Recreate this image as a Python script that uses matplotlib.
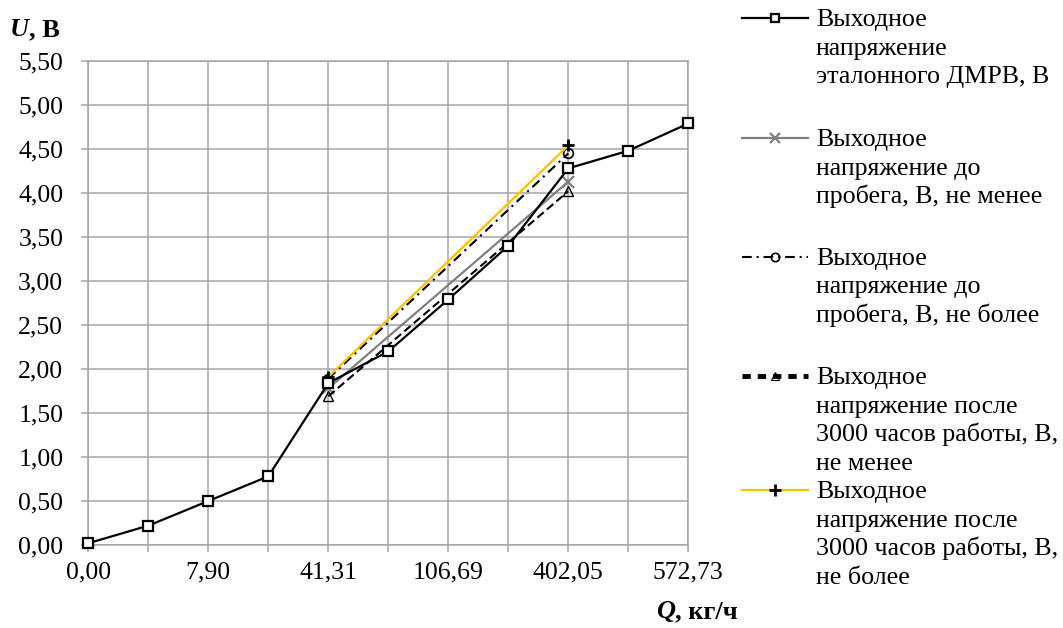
import matplotlib
matplotlib.use('Agg')
import matplotlib.pyplot as plt
from matplotlib.lines import Line2D

plt.rcParams['font.family'] = ['Liberation Serif', 'DejaVu Serif']
plt.rcParams['lines.scale_dashes'] = False

# categories on the x axis (every second one is labelled)
x_labels = ['0,00', '', '7,90', '', '41,31', '', '106,69', '', '402,05', '', '572,73']
x_pos = list(range(len(x_labels)))

u_ref = [0.02, 0.22, 0.50, 0.78, 1.84, 2.20, 2.79, 3.40, 4.28, 4.48, 4.79]
bound_pos = [4, 8]
u_before_min = [1.78, 4.13]
u_before_max = [1.89, 4.45]
u_after_min = [1.69, 4.02]
u_after_max = [1.91, 4.54]

y_ticks = [0.5 * i for i in range(12)]

W, H = 1063, 628
fig = plt.figure(figsize=(W / 100, H / 100), dpi=100)
ax = fig.add_axes([88.3 / W, 1 - 545 / H, 600 / W, (545 - 61) / H])

grid_c = '#a6a6a6'
ax.set_xlim(0, 10)
ax.set_ylim(0, 5.5)
ax.set_xticks(x_pos)
ax.set_xticklabels(x_labels)
ax.set_yticks(y_ticks)
ax.set_yticklabels([('%.2f' % v).replace('.', ',') for v in y_ticks])
ax.grid(True, color=grid_c, lw=1.1)
ax.set_axisbelow(True)
for s in ax.spines.values():
    s.set_color(grid_c)
    s.set_linewidth(1.1)
ax.tick_params(axis='both', color=grid_c, width=1.1, length=5, labelsize=18.5)
ax.tick_params(axis='y', pad=13)
ax.tick_params(axis='x', pad=7)

dashdot = (0, (7, 3.5, 1.5, 3.5))
dashed = (0, (6, 3))

ax.plot(bound_pos, u_before_min, color='#808080', lw=1.6, marker='x', ms=8, mew=1.6, zorder=3)
ax.plot(bound_pos, u_after_min, color='black', lw=1.5, ls=dashed, marker='^', ms=7,
        mfc='none', mew=1.0, zorder=3)
ax.plot(x_pos, u_ref, color='black', lw=1.6, marker='s', ms=7, mfc='white', mew=1.6,
        zorder=4, clip_on=False)
ax.plot(bound_pos, u_before_max, color='black', lw=1.5, ls=dashdot, marker='o', ms=7,
        mfc='none', mew=1.2, zorder=3)
ax.plot(bound_pos, u_after_max, color='#ffc000', lw=1.6, marker='+', ms=9, mec='black',
        mew=2, zorder=3)

# axis titles: italic bold letter + bold unit
fig.canvas.draw()
r = fig.canvas.get_renderer()
t = fig.text(10 / W, 1 - 36 / H, 'U', fontsize=19, weight='bold', style='italic')
bb = t.get_window_extent(r)
fig.text(bb.x1 / W, 1 - 36 / H, ', В', fontsize=19, weight='bold')

t2 = fig.text(738 / W, 1 - 618 / H, ', кг/ч', fontsize=19, weight='bold', ha='right')
bb2 = t2.get_window_extent(r)
fig.text(bb2.x0 / W, 1 - 618 / H, 'Q', fontsize=19, weight='bold', style='italic', ha='right')

# legend drawn by hand, Excel style
entries = [
    (['Выходное', 'напряжение', 'эталонного ДМРВ, В'],
     dict(color='black', lw=1.6, marker='s', ms=6, mfc='white', mew=1.6)),
    (['Выходное', 'напряжение до', 'пробега, В, не менее'],
     dict(color='#808080', lw=1.6, marker='x', ms=7, mew=1.6)),
    (['Выходное', 'напряжение до', 'пробега, В, не более'],
     dict(color='black', lw=1.5, ls=dashdot, marker='o', ms=6, mfc='none', mew=1.2)),
    (['Выходное', 'напряжение после', '3000 часов работы, В,', 'не менее'],
     dict(color='black', lw=3.5, ls=(0, (6, 5)), marker='^', ms=6, mfc='none', mew=0.8)),
    (['Выходное', 'напряжение после', '3000 часов работы, В,', 'не более'],
     dict(color='#ffc000', lw=1.6, marker='+', ms=8, mec='black', mew=2)),
]
entry_y = [18, 138, 257, 376, 490]
line_pitch = 28.5
for (lines, style), y0 in zip(entries, entry_y):
    st = dict(style)
    mk = {k: st.pop(k) for k in ['marker', 'ms', 'mfc', 'mew', 'mec'] if k in st}
    fig.add_artist(Line2D([742 / W, 808 / W], [1 - y0 / H] * 2, transform=fig.transFigure, **st))
    fig.add_artist(Line2D([775 / W], [1 - y0 / H], transform=fig.transFigure, ls='none',
                          color=st['color'], **mk))
    for i, s in enumerate(lines):
        fig.text(816 / W, 1 - (y0 + i * line_pitch + 8) / H, s, fontsize=18.7, va='baseline')

fig.savefig('out.png', dpi=100)
